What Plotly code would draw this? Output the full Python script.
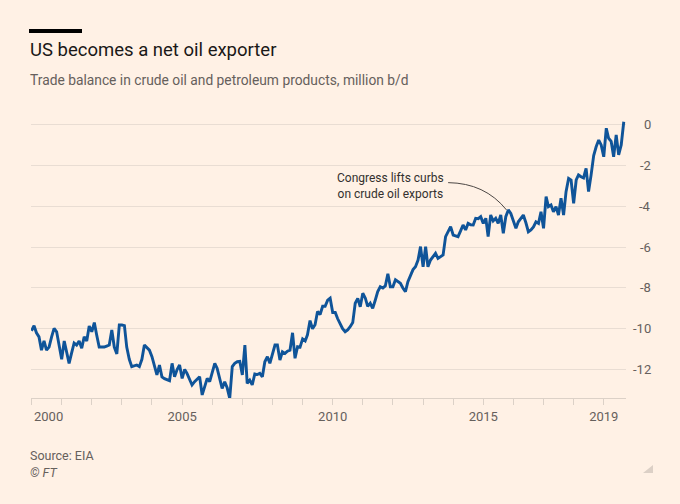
import plotly.graph_objects as go
import pandas as pd

# ---------------- data ----------------
start_month = "2000-01-01"
balance = [
    # 2000
    -10.1, -9.85, -10.2, -10.4, -11.05, -10.6, -11.05, -10.9, -10.4, -9.98, -10.15, -10.8,
    # 2001
    -11.5, -10.6, -11.1, -11.7, -11.2, -10.7, -10.8, -10.6, -10.96, -10.4, -10.6, -9.87,
    # 2002
    -10.15, -9.7, -10.3, -10.9, -10.9, -10.9, -10.85, -10.8, -10.06, -10.9, -11.24, -9.82,
    # 2003
    -9.82, -9.85, -10.9, -11.5, -11.86, -11.8, -11.78, -11.86, -11.5, -10.8, -10.95, -11.05,
    # 2004
    -11.37, -11.8, -12.27, -11.78, -12.36, -12.45, -12.5, -12.55, -11.7, -12.36, -12.0, -11.78,
    # 2005
    -12.44, -12.0, -12.19, -12.5, -12.76, -12.6, -12.5, -12.36, -13.25, -12.9, -12.44, -12.6,
    # 2006
    -12.1, -11.7, -11.94, -12.4, -12.93, -12.6, -12.9, -13.42, -11.86, -11.7, -11.62, -11.6,
    # 2007
    -12.27, -10.8, -12.68, -12.52, -12.76, -12.22, -12.25, -12.19, -12.36, -11.62, -11.37, -11.7,
    # 2008
    -11.2, -10.8, -10.8, -11.54, -11.13, -11.21, -11.1, -11.05, -10.2, -11.45, -10.88, -10.9,
    # 2009
    -10.5, -10.6, -10.3, -9.6, -10.0, -9.8, -9.15, -9.3, -8.9, -8.9, -8.6, -8.5,
    # 2010
    -9.2, -9.2, -9.5, -9.8, -10.0, -10.15, -10.06, -9.9, -9.7, -8.75, -8.51, -8.92,
    # 2011
    -8.26, -8.5, -8.9, -8.75, -9.0, -8.6, -8.18, -7.94, -8.0, -7.9, -7.3, -7.94,
    # 2012
    -7.94, -7.6, -7.7, -7.77, -8.0, -8.18, -7.69, -7.4, -7.1, -6.96, -6.63, -5.97,
    # 2013
    -6.96, -5.97, -6.96, -6.63, -6.45, -6.3, -6.55, -6.45, -6.38, -5.48, -5.2, -4.99,
    # 2014
    -5.4, -5.45, -5.48, -5.2, -4.91, -5.15, -4.83, -4.9, -4.91, -4.58, -4.6, -4.5,
    # 2015
    -4.83, -4.58, -5.48, -4.42, -4.71, -4.58, -4.83, -4.42, -5.32, -4.5, -4.17, -4.34,
    # 2016
    -4.7, -5.07, -4.75, -4.6, -4.42, -4.8, -5.24, -5.15, -5.0, -4.75, -4.83, -4.26,
    # 2017
    -5.07, -3.52, -4.01, -3.93, -4.26, -4.01, -4.42, -3.6, -4.42, -3.27, -2.62, -2.7,
    # 2018
    -3.84, -2.7, -2.45, -2.54, -2.6, -2.13, -3.27, -2.45, -1.5, -1.07, -0.74, -0.98,
    # 2019
    -1.56, -0.16, -0.65, -0.8, -1.56, -0.49, -1.47, -0.98, 0.16,
]
dates = pd.date_range(start_month, periods=len(balance), freq="MS")

ytick_vals = [0, -2, -4, -6, -8, -10, -12]
ytick_labels = ["0", "-2", "-4", "-6", "-8", "-10", "-12"]
x_years = list(range(2000, 2020))
x_labelled = [2000, 2005, 2010, 2015, 2019]

title = "US becomes a net oil exporter"
subtitle = "Trade balance in crude oil and petroleum products, million b/d"
source = "Source: EIA"
credit = "© FT"
callout = "Congress lifts curbs<br>on crude oil exports"

# ---------------- layout helpers ----------------
W, H = 680, 504
L, R, T, B = 31, 54, 115, 106


def px(x):
    return (x - L) / (W - L - R)


def py(y):
    return (H - B - y) / (H - T - B)


BG = "#FFF1E5"
GREY = "#66605C"
FONT = "Roboto, sans-serif"

fig = go.Figure(
    go.Scatter(
        x=dates,
        y=balance,
        mode="lines",
        line=dict(color="#0F5499", width=2.9),
        hoverinfo="skip",
    )
)

tickvals = [f"{y}-01-01" for y in x_years]
ticktext = [str(y) if (y in x_labelled and y != 2000) else "" for y in x_years]

fig.update_layout(
    width=W,
    height=H,
    paper_bgcolor=BG,
    plot_bgcolor=BG,
    margin=dict(l=L, r=R, t=T, b=B),
    showlegend=False,
    hovermode=False,
    font=dict(family=FONT, color=GREY),
    xaxis=dict(
        type="date",
        range=["1999-12-26", "2019-09-28"],
        showgrid=False,
        zeroline=False,
        showline=True,
        linecolor="#DCD1C7",
        linewidth=1,
        ticks="outside",
        ticklen=6,
        tickcolor="#DCD1C7",
        tickvals=tickvals,
        ticktext=ticktext,
        tickfont=dict(size=13, color=GREY, family=FONT),
        fixedrange=True,
    ),
    yaxis=dict(
        range=[-13.4, 0.49],
        tickvals=ytick_vals,
        showticklabels=False,
        showgrid=True,
        gridcolor="#E9DDD3",
        gridwidth=1,
        zeroline=False,
        showline=False,
        ticks="",
        fixedrange=True,
    ),
)

ann = []
# y tick labels (right aligned, right of plot)
for v, t in zip(ytick_vals, ytick_labels):
    ann.append(dict(x=1, xref="paper", y=v, yref="y", text=t, showarrow=False,
                    xanchor="right", yanchor="middle", xshift=27,
                    font=dict(size=13, color=GREY, family=FONT)))
# left-aligned first x label
ann.append(dict(x=f"{x_labelled[0]}-01-01", xref="x", y=0, yref="paper",
                text=str(x_labelled[0]), showarrow=False, xanchor="left",
                yanchor="top", yshift=-9, xshift=1,
                font=dict(size=13, color=GREY, family=FONT)))
# titles
ann.append(dict(x=px(28), y=py(50), xref="paper", yref="paper", text=title,
                showarrow=False, xanchor="left", yanchor="middle",
                font=dict(size=18.5, color="#1A1817", family=FONT)))
ann.append(dict(x=px(28), y=py(80), xref="paper", yref="paper", text=subtitle,
                showarrow=False, xanchor="left", yanchor="middle",
                font=dict(size=13.8, color=GREY, family=FONT)))
ann.append(dict(x=px(28), y=py(455), xref="paper", yref="paper", text=source,
                showarrow=False, xanchor="left", yanchor="middle",
                font=dict(size=12.5, color=GREY, family=FONT)))
ann.append(dict(x=px(28), y=py(472), xref="paper", yref="paper",
                text=f"<i>{credit}</i>", showarrow=False, xanchor="left",
                yanchor="middle", font=dict(size=12.5, color=GREY, family=FONT)))
# callout
ann.append(dict(x="2013-10-10", y=-2.99, xref="x", yref="y", text=callout,
                showarrow=False, xanchor="right", yanchor="middle", align="center",
                font=dict(size=12, color="#33302E", family=FONT)))
fig.update_layout(annotations=ann)

shapes = [
    # black bar above title
    dict(type="rect", xref="paper", yref="paper", x0=px(29), x1=px(82),
         y0=py(33), y1=py(29), fillcolor="#000000", line=dict(width=0)),
    # callout connector
    dict(type="path", xref="x", yref="y",
         path="M 2013-11-01,-2.83 Q 2015-01-20,-2.85 2015-10-10,-4.17",
         line=dict(color="#4D4845", width=1)),
    # little corner triangle
    dict(type="path", xref="paper", yref="paper",
         path=f"M {px(653)},{py(465)} L {px(653)},{py(473)} L {px(643)},{py(473)} Z",
         fillcolor="#DCD0C6", line=dict(width=0)),
]
fig.update_layout(shapes=shapes)

fig.write_html(
    "out.html",
    config={"displayModeBar": False},
    post_script="document.body.style.margin='0';document.body.style.background='#FFF1E5';",
)
